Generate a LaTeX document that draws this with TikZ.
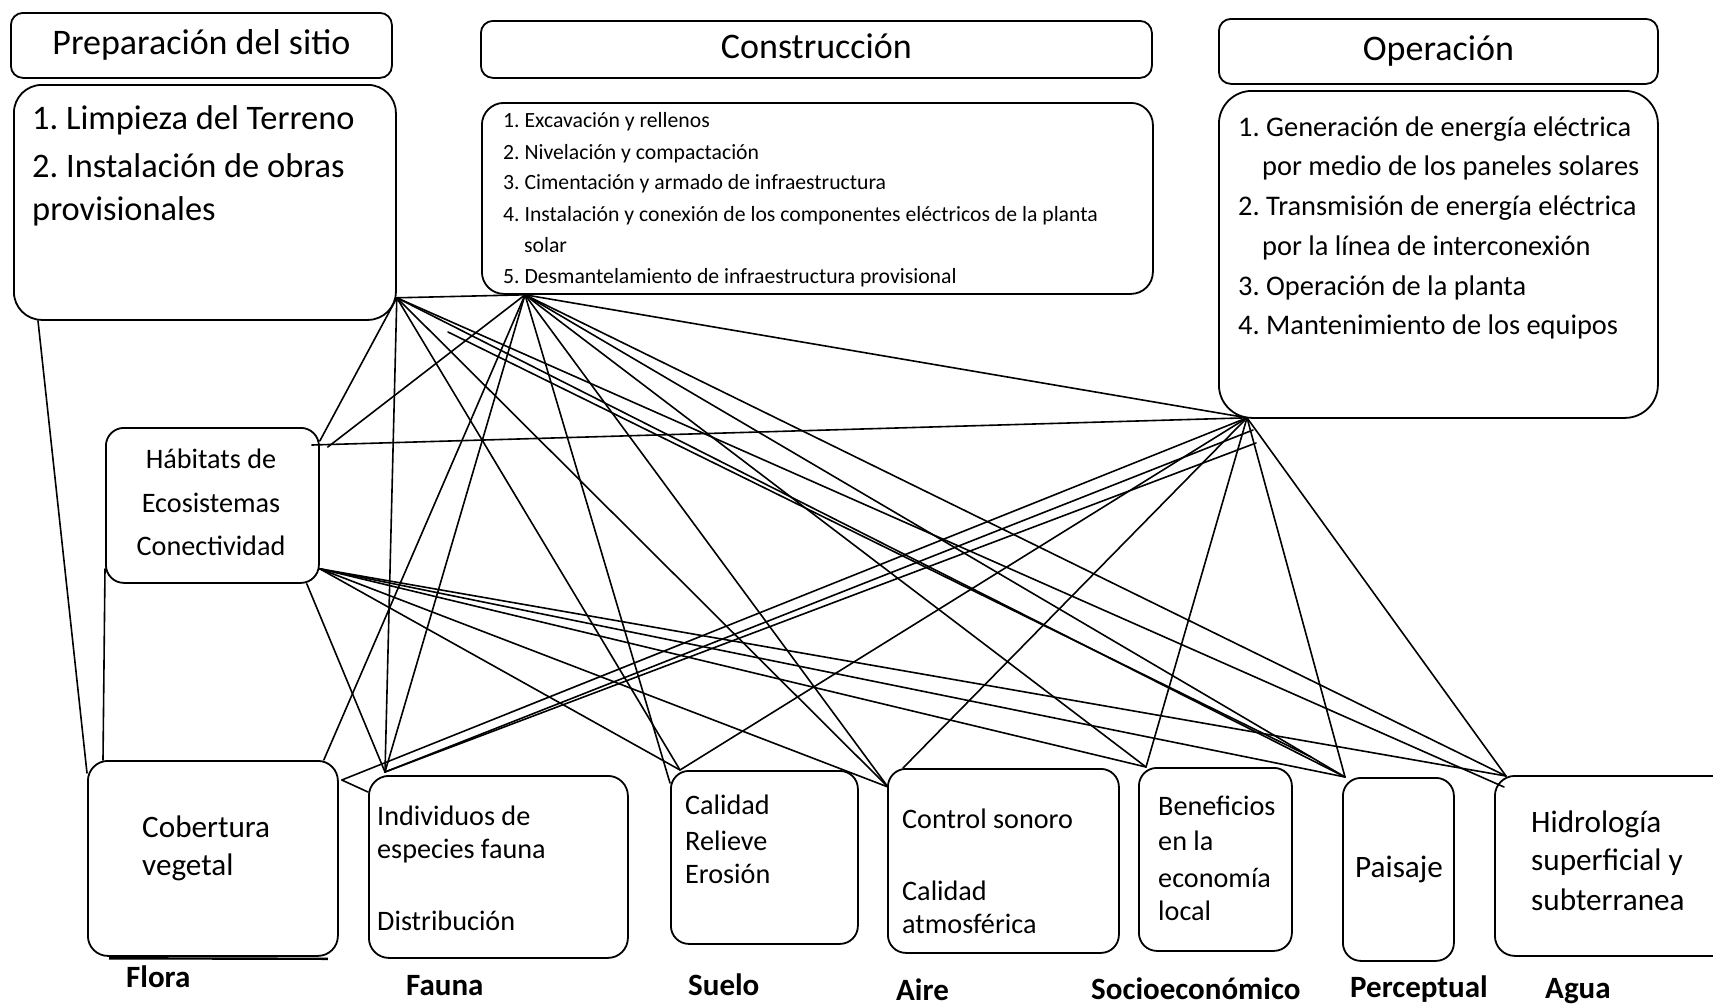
\documentclass[tikz,border=0pt]{standalone}
\usepackage{fontspec}
\setmainfont{Carlito}
\frenchspacing
\newcommand\fhead{\fontsize{36}{40}\selectfont}
\newcommand\fprep{\fontsize{34.4}{40}\selectfont}
\newcommand\fcons{\fontsize{21.7}{26}\selectfont}
\newcommand\foper{\fontsize{28.4}{34}\selectfont}
\newcommand\ffactor{\fontsize{28.2}{34}\selectfont}
\newcommand\fbig{\fontsize{31.2}{36}\selectfont}
\begin{document}
\begin{tikzpicture}[x=1pt,y=-1pt,
  box/.style={draw, line width=1.8pt, rounded corners=#1, inner sep=0pt, anchor=north west},
  box/.default=18pt,
  head/.style={box=12pt, text height=27pt, text depth=9pt, font=\fhead},
  txt/.style={anchor=base west, inner sep=0pt},
  ctxt/.style={anchor=base, inner sep=0pt},
  lab/.style={anchor=base west, inner sep=0pt, font=\fontsize{31}{36}\selectfont\bfseries},
  conn/.style={line width=1.6pt, line cap=round}]

\fill[white] (0,0) rectangle (1713,1007);
\useasboundingbox (0,0) rectangle (1713,1007);

% ---- project phases ----
\node[head, minimum width=381pt, minimum height=65pt] (prephead) at (10,12) {Preparación del sitio};
\node[box=28pt, minimum width=382pt, minimum height=235pt] (prepbody) at (13,84) {};
\node[head, minimum width=671pt, minimum height=57pt] (conshead) at (480,20) {Construcción};
\node[box=22pt, minimum width=671pt, minimum height=191pt] (consbody) at (481,102) {};
\node[head, minimum width=439pt, minimum height=65pt] (operhead) at (1218,18) {Operación};
\node[box=33pt, minimum width=439pt, minimum height=327pt] (operbody) at (1218,90) {};

\foreach \t/\yy [count=\i] in {{1. Limpieza del Terreno}/129,{2. Instalación de obras}/177,{provisionales}/220}
  \node[txt, font=\fprep] (prep\i) at (32,\yy) {\t};

\foreach \t/\xx/\yy [count=\i] in {
  {1. Excavación y rellenos}/503/127,
  {2. Nivelación y compactación}/503/159,
  {3. Cimentación y armado de infraestructura}/503/189,
  {4. Instalación y conexión de los componentes eléctricos de la planta}/503/221,
  {solar}/524/252,
  {5. Desmantelamiento de infraestructura provisional}/503/283}
  \node[txt, font=\fcons] (cons\i) at (\xx,\yy) {\t};

\foreach \t/\xx/\yy [count=\i] in {
  {1. Generación de energía eléctrica}/1238/136,
  {por medio de los paneles solares}/1262/175,
  {2. Transmisión de energía eléctrica}/1238/215,
  {por la línea de interconexión}/1262/255,
  {3. Operación de la planta}/1238/295,
  {4. Mantenimiento de los equipos}/1238/334}
  \node[txt, font=\foper] (oper\i) at (\xx,\yy) {\t};

% ---- environmental factors ----
\node[box=18pt, minimum width=213pt, minimum height=155pt] (hab) at (105,427) {};
\foreach \t/\yy [count=\i] in {{Hábitats de}/468,{Ecosistemas}/512,{Conectividad}/555}
  \node[ctxt, font=\ffactor] (hab\i) at (211,\yy) {\t};

\node[box=20pt, minimum width=250pt, minimum height=195pt] (cob) at (87,760) {};
\draw[line width=2.4pt] ([xshift=22pt,yshift=-1.5pt]cob.south west) -- ([xshift=-11pt,yshift=-2pt]cob.south east);
\node[txt, font=\fbig] (cob1) at (142,837) {Cobertura};
\node[txt, font=\fbig] (cob2) at (142,875) {vegetal};

\node[box=20pt, minimum width=259pt, minimum height=182pt] (fau) at (368,775) {};
\foreach \t/\yy [count=\i] in {{Individuos de}/825,{especies fauna}/858,{Distribución}/930}
  \node[txt, font=\ffactor] (fau\i) at (377,\yy) {\t};

\node[box=18pt, minimum width=187pt, minimum height=173pt] (sue) at (670,770) {};
\foreach \t/\yy [count=\i] in {{Calidad}/814,{Relieve}/850,{Erosión}/883}
  \node[txt, font=\ffactor] (sue\i) at (685,\yy) {\t};

\node[box=18pt, minimum width=231pt, minimum height=184pt] (air) at (887,768) {};
\foreach \t/\yy [count=\i] in {{Control sonoro}/828,{Calidad}/900,{atmosférica}/933}
  \node[txt, font=\ffactor] (air\i) at (902,\yy) {\t};

\node[box=18pt, minimum width=153pt, minimum height=183pt] (soc) at (1138,767) {};
\foreach \t/\yy [count=\i] in {{Beneficios}/815,{en la}/850,{economía}/887,{local}/920}
  \node[txt, font=\ffactor] (soc\i) at (1158,\yy) {\t};

\node[box=18pt, minimum width=111pt, minimum height=183pt] (pai) at (1342,777) {};
\node[txt, font=\fbig] (pai1) at (1355,877) {Paisaje};

\node[box=20pt, minimum width=260pt, minimum height=180pt] (agu) at (1494,775) {};
\foreach \t/\yy [count=\i] in {{Hidrología}/832,{superficial y}/870,{subterranea}/910}
  \node[txt, font=\fbig] (agu\i) at (1531,\yy) {\t};

% ---- factor labels ----
\node[lab] (lflora) at (126,987) {Flora};
\node[lab] (lfauna) at (406,995) {Fauna};
\node[lab] (lsuelo) at (688,995) {Suelo};
\node[lab] (laire) at (896,1000) {Aire};
\node[lab] (lsocio) at (1091,999) {Socioeconómico};
\node[lab] (lperc) at (1350,997) {Perceptual};
\node[lab] (lagua) at (1545,998) {Agua};

% ---- connection points ----
\coordinate (hP) at ([yshift=23pt]prepbody.south east);
\coordinate (hPl) at ([xshift=25pt]prepbody.south west);
\coordinate (hC) at ([xshift=44pt]consbody.south west);
\coordinate (hO) at ([xshift=29pt,yshift=1pt]operbody.south west);
\coordinate (hO2) at (1253,430);
\coordinate (hO3) at (1256,443);
\coordinate (hHa) at ([yshift=-14pt]hab.north east);
\coordinate (hHc) at ([xshift=8pt,yshift=-20pt]hab.north east);
\coordinate (hHo) at ([xshift=-8pt,yshift=-18pt]hab.north east);
\coordinate (hHr) at ([yshift=15pt]hab.south east);
\coordinate (hHl) at ([yshift=15pt]hab.south west);
\coordinate (hHd) at ([xshift=-13pt]hab.south east);
\coordinate (fLl) at ([yshift=-13pt]cob.north west);
\coordinate (fLt) at ([xshift=16pt]cob.north west);
\coordinate (fLtr) at ([xshift=-15pt]cob.north east);
\coordinate (fLr) at ([xshift=3pt,yshift=-20pt]cob.north east);
\coordinate (fAl) at ([yshift=-17pt]fau.north west);
\coordinate (fA) at ([xshift=17pt,yshift=3pt]fau.north west);
\coordinate (sU) at ([xshift=10pt]sue.north west);
\coordinate (sUl) at ([yshift=-13pt]sue.north west);
\coordinate (aI) at ([xshift=1pt,yshift=-19pt]air.north west);
\coordinate (aI2) at ([xshift=16pt]air.north west);
\coordinate (sO) at ([xshift=8pt]soc.north west);
\coordinate (pA) at ([xshift=3pt]pai.north west);
\coordinate (aG) at ([xshift=12pt,yshift=-1pt]agu.north west);
\coordinate (aGi) at ([xshift=10pt,yshift=-12pt]agu.north west);
\coordinate (tA) at (448,332);
\coordinate (tB) at (1311,757);

% ---- connectors ----
\draw[conn] (hPl) -- (fLl);
\draw[conn] (hHl) -- (fLt);
\draw[conn] (hHd) -- (fA);
\draw[conn] (hP) -- (hC);
\draw[conn] (hP) -- (hHa);
\draw[conn] (hC) -- (hHc);
\draw[conn] (hO) -- (hHo);
\draw[conn] (hC) -- (hO);
\draw[conn] (hP) -- (fA);
\draw[conn] (hC) -- (fLtr);
\draw[conn] (hC) -- (fA);
\draw[conn] (hO) -- (fLr);
\draw[conn] (fLr) -- (fAl);
\draw[conn] (hO2) -- (fA);
\draw[conn] (hO3) -- (fA);
\draw[conn] (hP) -- (sU);
\draw[conn] (hC) -- (sUl);
\draw[conn] (hHr) -- (sU);
\draw[conn] (hO) -- (sU);
\draw[conn] (hP) -- (aI);
\draw[conn] (hC) -- (aI);
\draw[conn] (hHr) -- (aI);
\draw[conn] (hO) -- (aI2);
\draw[conn] (hC) -- (sO);
\draw[conn] (hHr) -- (sO);
\draw[conn] (hO) -- (sO);
\draw[conn] (hP) -- (pA);
\draw[conn] (hC) -- (pA);
\draw[conn] (hHr) -- (pA);
\draw[conn] (hO) -- (pA);
\draw[conn] (tA) -- (tB);
\draw[conn] (hC) -- (aG);
\draw[conn] (hP) -- (aGi);
\draw[conn] (hHr) -- (aG);
\draw[conn] (hO) -- (aG);
\end{tikzpicture}
\end{document}
